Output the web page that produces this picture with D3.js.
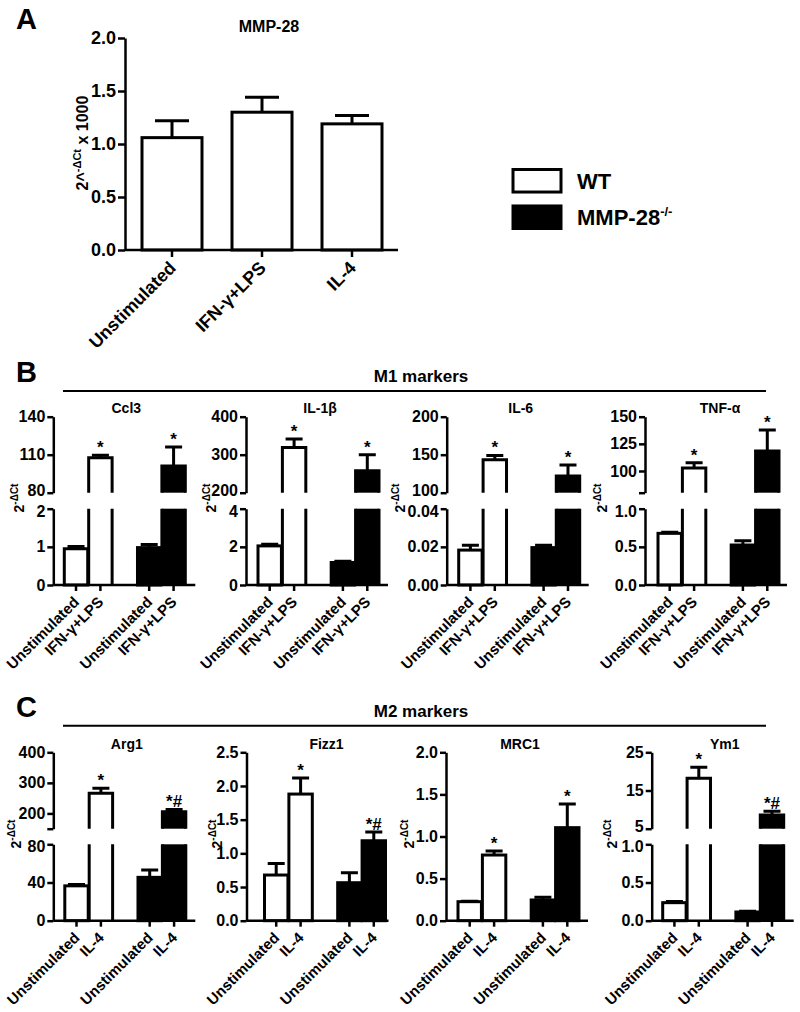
<!DOCTYPE html>
<html><head><meta charset="utf-8">
<script src="https://cdnjs.cloudflare.com/ajax/libs/d3/7.8.5/d3.min.js"></script>
<style>
body{margin:0;background:#fff;}
svg{display:block;font-family:"Liberation Sans",Arial,Helvetica,sans-serif;font-weight:bold;}
</style></head><body>
<svg id="chart" width="800" height="1012"></svg>
<script>
// ================= DATA =================
// Panel A: MMP-28 expression (WT)
const aCategories = ["Unstimulated", "IFN-γ+LPS", "IL-4"];
const aMean = [1.06, 1.30, 1.19];
const aErr = [0.16, 0.14, 0.08];
const aTicks = [0, 0.5, 1.0, 1.5, 2.0];
const aTickLabels = ["0.0", "0.5", "1.0", "1.5", "2.0"];

// Legend / genotype of each bar (order: WT, WT, KO, KO)
const legendLabels = ["WT", "MMP-28"];
const barGenotype = ["WT", "WT", "KO", "KO"];

// Panel B: M1 markers
const m1Conditions = ["Unstimulated", "IFN-γ+LPS", "Unstimulated", "IFN-γ+LPS"];
const m1Marks = ["", "*", "", "*"];

const ccl3Mean = [0.95, 107.5, 0.98, 101];
const ccl3Err = [0.06, 2.0, 0.08, 15];
const ccl3LowTicks = [0, 1, 2];
const ccl3LowLabels = ["0", "1", "2"];
const ccl3HighTicks = [80, 110, 140];
const ccl3HighLabels = ["80", "110", "140"];

const il1bMean = [2.05, 319, 1.18, 258];
const il1bErr = [0.08, 22, 0.06, 42];
const il1bLowTicks = [0, 2, 4];
const il1bLowLabels = ["0", "2", "4"];
const il1bHighTicks = [200, 300, 400];
const il1bHighLabels = ["200", "300", "400"];

const il6Mean = [0.0183, 143.5, 0.0196, 122];
const il6Err = [0.0025, 5.5, 0.0012, 14.5];
const il6LowTicks = [0, 0.02, 0.04];
const il6LowLabels = ["0.00", "0.02", "0.04"];
const il6HighTicks = [100, 150, 200];
const il6HighLabels = ["100", "150", "200"];

const tnfMean = [0.677, 102.7, 0.524, 118.4];
const tnfErr = [0.015, 4.9, 0.056, 19.3];
const tnfLowTicks = [0, 0.5, 1.0];
const tnfLowLabels = ["0.0", "0.5", "1.0"];
const tnfHighTicks = [80, 100, 125, 150];
const tnfHighLabels = ["", "100", "125", "150"];

// Panel C: M2 markers
const m2Conditions = ["Unstimulated", "IL-4", "Unstimulated", "IL-4"];

const arg1Mean = [36.5, 266, 45.4, 205.6];
const arg1Err = [1.5, 16, 7.6, 7.4];
const arg1Marks = ["", "*", "", "*#"];
const arg1LowTicks = [0, 40, 80];
const arg1LowLabels = ["0", "40", "80"];
const arg1HighTicks = [150, 200, 300, 400];
const arg1HighLabels = ["", "200", "300", "400"];

const fizz1Mean = [0.678, 1.88, 0.564, 1.187];
const fizz1Err = [0.17, 0.24, 0.146, 0.13];
const fizz1Marks = ["", "*", "", "*#"];
const fizz1Ticks = [0, 0.5, 1.0, 1.5, 2.0, 2.5];
const fizz1Labels = ["0.0", "0.5", "1.0", "1.5", "2.0", "2.5"];

const mrc1Mean = [0.226, 0.78, 0.246, 1.105];
const mrc1Err = [0.005, 0.048, 0.032, 0.28];
const mrc1Marks = ["", "*", "", "*"];
const mrc1Ticks = [0, 0.5, 1.0, 1.5, 2.0];
const mrc1Labels = ["0.0", "0.5", "1.0", "1.5", "2.0"];

const ym1Mean = [0.236, 18.2, 0.114, 8.6];
const ym1Err = [0.015, 2.9, 0.01, 1.0];
const ym1Marks = ["", "*", "", "*#"];
const ym1LowTicks = [0, 0.5, 1.0];
const ym1LowLabels = ["0.0", "0.5", "1.0"];
const ym1HighTicks = [5, 15, 25];
const ym1HighLabels = ["5", "15", "25"];

// ================= DRAWING =================
const svg = d3.select("#chart");
const FONT = '"Liberation Sans",Arial,Helvetica,sans-serif';
const AXW = 2.5;   // axis stroke width
const BARW = 3;    // bar outline width
const fillOf = g => g === "WT" ? "#fff" : "#000";

function styleAxis(sel, fs) {
  sel.attr("font-family", FONT).attr("font-size", fs).attr("font-weight", "bold");
  sel.select(".domain").attr("stroke-width", AXW).attr("stroke", "#000");
  sel.selectAll(".tick line").attr("stroke-width", AXW).attr("stroke", "#000");
  sel.selectAll(".tick text").attr("fill", "#000");
}

// ---------- Panel A ----------
(function panelA() {
  const g = svg.append("g");
  const axX = 125, xEnd = 398;
  const x = d3.scaleBand().domain(aCategories).range([127, 397]).paddingInner(1/3).paddingOuter(1/6);
  const y = d3.scaleLinear().domain([0, 2]).range([250, 38]);

  g.selectAll("rect.bar").data(aMean).join("rect").attr("class", "bar")
    .attr("x", (d, i) => x(aCategories[i])).attr("width", x.bandwidth())
    .attr("y", d => y(d)).attr("height", d => y(0) - y(d))
    .attr("fill", "#fff").attr("stroke", "#000").attr("stroke-width", BARW);

  const eb = g.selectAll("g.err").data(aMean).join("g").attr("class", "err");
  eb.append("path")
    .attr("d", (d, i) => {
      const cx = x(aCategories[i]) + x.bandwidth() / 2, t = y(d + aErr[i]);
      return `M${cx},${y(d)}V${t}M${cx - 17},${t}H${cx + 17}`;
    })
    .attr("stroke", "#000").attr("stroke-width", BARW).attr("fill", "none");

  const yAx = g.append("g").attr("transform", `translate(${axX},0)`)
    .call(d3.axisLeft(y).tickValues(aTicks).tickFormat((d, i) => aTickLabels[i])
      .tickSize(7).tickSizeOuter(0).tickPadding(2));
  styleAxis(yAx, 18);

  g.append("line").attr("x1", axX).attr("x2", xEnd).attr("y1", 250).attr("y2", 250)
    .attr("stroke", "#000").attr("stroke-width", AXW);
  const xAx = g.append("g").attr("transform", "translate(0,250)")
    .call(d3.axisBottom(x).tickSize(7).tickSizeOuter(0).tickFormat(""));
  xAx.select(".domain").remove();
  styleAxis(xAx, 17);

  g.selectAll("text.xl").data(aCategories).join("text").attr("class", "xl")
    .attr("transform", d => `translate(${x(d) + x.bandwidth() / 2 + 5},${250 + 19}) rotate(-45)`)
    .attr("text-anchor", "end").attr("font-size", 18).text(d => d);

  g.append("text").attr("x", 269).attr("y", 32).attr("text-anchor", "middle")
    .attr("font-size", 16).text("MMP-28");

  const yl = g.append("text").attr("transform", "translate(88,143) rotate(-90)")
    .attr("text-anchor", "middle").attr("font-size", 16);
  yl.append("tspan").text("2^");
  yl.append("tspan").attr("dy", -7).attr("font-size", 11).text("-ΔCt");
  yl.append("tspan").attr("dy", 7).text(" x 1000");

  g.append("text").attr("x", 16).attr("y", 29).attr("font-size", 29).text("A");
})();

// ---------- Legend ----------
(function legend() {
  const g = svg.append("g");
  const ly = d3.scaleBand().domain(legendLabels).range([168, 230]).paddingInner(0.3);
  g.selectAll("rect").data(legendLabels).join("rect")
    .attr("x", 513).attr("width", 48)
    .attr("y", d => ly(d) + 1.5).attr("height", ly.bandwidth() - 3)
    .attr("fill", (d, i) => i === 0 ? "#fff" : "#000")
    .attr("stroke", "#000").attr("stroke-width", 3);
  const t = g.selectAll("text").data(legendLabels).join("text")
    .attr("x", 577).attr("y", d => ly(d) + ly.bandwidth() / 2 + 8)
    .attr("font-size", 22);
  t.append("tspan").text(d => d);
  t.filter((d, i) => i === 1).append("tspan").attr("dy", -9).attr("font-size", 13).text("-/-");
})();

// ---------- Section headers ----------
function header(letter, name, lineY) {
  svg.append("text").attr("x", 16).attr("y", lineY - 9).attr("font-size", 29).text(letter);
  svg.append("line").attr("x1", 63).attr("x2", 766).attr("y1", lineY).attr("y2", lineY)
    .attr("stroke", "#000").attr("stroke-width", 2);
  svg.append("text").attr("x", 421).attr("y", lineY - 9).attr("text-anchor", "middle")
    .attr("font-size", 17).text(name);
}
header("B", "M1 markers", 391);
header("C", "M2 markers", 725.7);

// ---------- Sub plots ----------
const frameB = { top: 416.7, breakUp: 492.7, breakLow: 508.7, bottom: 585, ylY: 498, titleY: 413 };
const frameC = { top: 752.3, breakUp: 828.7, breakLow: 844.3, bottom: 920.7, ylY: 834, titleY: 749 };

function subplot(p) {
  const f = p.frame;
  const g = svg.append("g");
  const slots = [0, 1, 3, 4];
  const x = d3.scaleBand().domain(d3.range(5)).range([p.ax + p.pad, p.ax + p.pad + 121]).paddingInner(0.04).paddingOuter(0);
  const bw = x.bandwidth();
  const broken = !!p.highTicks;
  const yLow = d3.scaleLinear().domain(d3.extent(p.lowTicks))
    .range([f.bottom, broken ? f.breakLow : f.top]);
  const yHigh = broken ? d3.scaleLinear().domain(d3.extent(p.highTicks)).range([f.breakUp, f.top]) : null;
  const lowMax = d3.max(p.lowTicks);

  p.means.forEach((v, i) => {
    const x0 = x(slots[i]), x1 = x0 + bw, cx = x0 + bw / 2;
    const fill = fillOf(barGenotype[i]);
    let errTopY;
    if (broken && v > lowMax) {
      g.append("rect").attr("x", x0).attr("width", bw).attr("y", f.breakLow)
        .attr("height", f.bottom - f.breakLow).attr("fill", fill);
      g.append("path").attr("d", `M${x0},${f.bottom}V${f.breakLow}M${x1},${f.breakLow}V${f.bottom}`)
        .attr("stroke", "#000").attr("stroke-width", BARW).attr("fill", "none");
      g.append("rect").attr("x", x0).attr("width", bw).attr("y", yHigh(v))
        .attr("height", f.breakUp - yHigh(v)).attr("fill", fill);
      g.append("path").attr("d", `M${x0},${f.breakUp}V${yHigh(v)}H${x1}V${f.breakUp}`)
        .attr("stroke", "#000").attr("stroke-width", BARW).attr("fill", "none");
      errTopY = yHigh(v + p.errs[i]);
      g.append("path").attr("d", `M${cx},${yHigh(v)}V${errTopY}M${cx - 8.5},${errTopY}H${cx + 8.5}`)
        .attr("stroke", "#000").attr("stroke-width", BARW).attr("fill", "none");
    } else {
      g.append("rect").attr("x", x0).attr("width", bw).attr("y", yLow(v))
        .attr("height", f.bottom - yLow(v)).attr("fill", fill)
        .attr("stroke", "#000").attr("stroke-width", BARW);
      errTopY = yLow(v + p.errs[i]);
      g.append("path").attr("d", `M${cx},${yLow(v)}V${errTopY}M${cx - 8.5},${errTopY}H${cx + 8.5}`)
        .attr("stroke", "#000").attr("stroke-width", BARW).attr("fill", "none");
    }
    if (p.marks[i]) {
      g.append("text").attr("x", cx).attr("y", errTopY - 2).attr("text-anchor", "middle")
        .attr("font-size", 17).text(p.marks[i]);
    }
  });

  const aLow = g.append("g").attr("transform", `translate(${p.ax},0)`)
    .call(d3.axisLeft(yLow).tickValues(p.lowTicks).tickFormat((d, i) => p.lowLabels[i])
      .tickSize(6).tickSizeOuter(0).tickPadding(2));
  styleAxis(aLow, 16);
  if (broken) {
    // nudge labels at the break apart so they do not collide
    const lowTop = d3.max(p.lowTicks);
    aLow.selectAll(".tick text").filter(d => d === lowTop).attr("transform", "translate(0,2.5)");
    const aHigh = g.append("g").attr("transform", `translate(${p.ax},0)`)
      .call(d3.axisLeft(yHigh).tickValues(p.highTicks).tickFormat((d, i) => p.highLabels[i])
        .tickSize(6).tickSizeOuter(0).tickPadding(2));
    styleAxis(aHigh, 16);
    const highBottom = d3.min(p.highTicks);
    aHigh.selectAll(".tick text").filter(d => d === highBottom).attr("transform", "translate(0,-2.5)");
  }

  g.append("line").attr("x1", p.ax).attr("x2", p.ax + 142).attr("y1", f.bottom).attr("y2", f.bottom)
    .attr("stroke", "#000").attr("stroke-width", AXW);
  const xAx = g.append("g").attr("transform", `translate(0,${f.bottom})`)
    .call(d3.axisBottom(x).tickValues(slots).tickSize(6).tickSizeOuter(0).tickFormat(""));
  xAx.select(".domain").remove();
  styleAxis(xAx, 15);

  g.selectAll("text.xl").data(p.cond).join("text").attr("class", "xl")
    .attr("transform", (d, i) => `translate(${x(slots[i]) + bw / 2 + 4},${f.bottom + 18}) rotate(-45)`)
    .attr("text-anchor", "end").attr("font-size", 15).text(d => d);

  g.append("text").attr("x", p.ax + p.pad + 62).attr("y", f.titleY).attr("text-anchor", "middle")
    .attr("font-size", 14).text(p.title);

  const yl = g.append("text").attr("transform", `translate(${p.ylx},${f.ylY}) rotate(-90)`)
    .attr("text-anchor", "middle").attr("font-size", 14);
  yl.append("tspan").text("2");
  yl.append("tspan").attr("dy", -6).attr("font-size", 10).text("-ΔCt");
}

const plotsB = [
  { title: "Ccl3", means: ccl3Mean, errs: ccl3Err, marks: m1Marks, cond: m1Conditions,
    lowTicks: ccl3LowTicks, lowLabels: ccl3LowLabels, highTicks: ccl3HighTicks, highLabels: ccl3HighLabels,
    frame: frameB, ax: 53.3, pad: 11, ylx: 24 },
  { title: "IL-1β", means: il1bMean, errs: il1bErr, marks: m1Marks, cond: m1Conditions,
    lowTicks: il1bLowTicks, lowLabels: il1bLowLabels, highTicks: il1bHighTicks, highLabels: il1bHighLabels,
    frame: frameB, ax: 246, pad: 12, ylx: 216 },
  { title: "IL-6", means: il6Mean, errs: il6Err, marks: m1Marks, cond: m1Conditions,
    lowTicks: il6LowTicks, lowLabels: il6LowLabels, highTicks: il6HighTicks, highLabels: il6HighLabels,
    frame: frameB, ax: 446.7, pad: 12, ylx: 405 },
  { title: "TNF-α", means: tnfMean, errs: tnfErr, marks: m1Marks, cond: m1Conditions,
    lowTicks: tnfLowTicks, lowLabels: tnfLowLabels, highTicks: tnfHighTicks, highLabels: tnfHighLabels,
    frame: frameB, ax: 645, pad: 13, ylx: 607 }
];
const plotsC = [
  { title: "Arg1", means: arg1Mean, errs: arg1Err, marks: arg1Marks, cond: m2Conditions,
    lowTicks: arg1LowTicks, lowLabels: arg1LowLabels, highTicks: arg1HighTicks, highLabels: arg1HighLabels,
    frame: frameC, ax: 53.3, pad: 11.5, ylx: 21 },
  { title: "Fizz1", means: fizz1Mean, errs: fizz1Err, marks: fizz1Marks, cond: m2Conditions,
    lowTicks: fizz1Ticks, lowLabels: fizz1Labels,
    frame: frameC, ax: 246.5, pad: 18, ylx: 222 },
  { title: "MRC1", means: mrc1Mean, errs: mrc1Err, marks: mrc1Marks, cond: m2Conditions,
    lowTicks: mrc1Ticks, lowLabels: mrc1Labels,
    frame: frameC, ax: 446, pad: 12, ylx: 414 },
  { title: "Ym1", means: ym1Mean, errs: ym1Err, marks: ym1Marks, cond: m2Conditions,
    lowTicks: ym1LowTicks, lowLabels: ym1LowLabels, highTicks: ym1HighTicks, highLabels: ym1HighLabels,
    frame: frameC, ax: 651.7, pad: 11, ylx: 617 }
];
plotsB.forEach(subplot);
plotsC.forEach(subplot);
</script>
</body></html>
